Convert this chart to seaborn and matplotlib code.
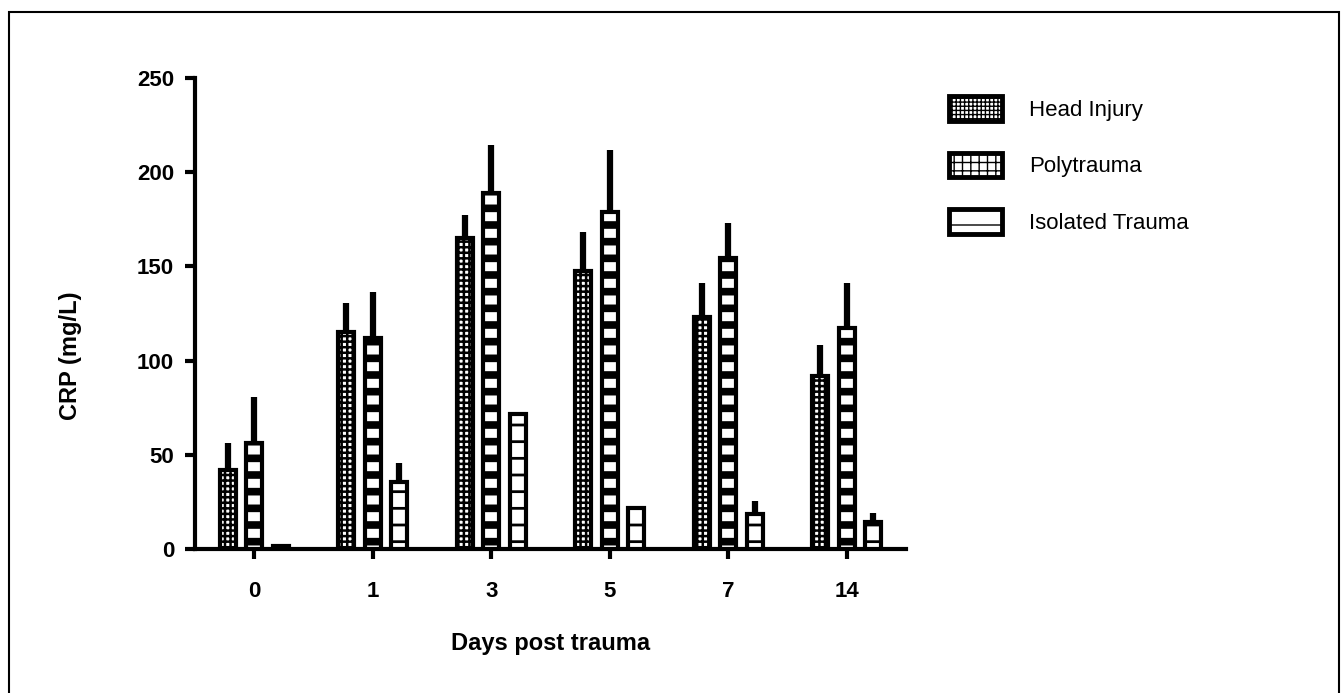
import numpy as np
import pandas as pd
import matplotlib
matplotlib.use("Agg")
import matplotlib.pyplot as plt
import seaborn as sns
from matplotlib.patches import Patch, Rectangle

# ---- data ----
days = ["0", "1", "3", "5", "7", "14"]
groups = ["Head Injury", "Polytrauma", "Isolated Trauma"]
head_injury = [41.9, 115.0, 164.9, 147.7, 123.3, 91.8]
head_injury_err = [14.2, 15.7, 12.4, 20.4, 18.1, 16.5]
polytrauma = [56.4, 112.2, 189.1, 179.0, 154.3, 117.5]
polytrauma_err = [24.1, 24.4, 25.3, 32.8, 18.9, 23.8]
isolated = [1.8, 35.7, 71.7, 21.9, 18.4, 14.2]
isolated_err = [0.0, 10.1, 0.0, 0.0, 7.1, 4.7]
y_ticks = [0, 50, 100, 150, 200, 250]

means = [head_injury, polytrauma, isolated]
errs = [head_injury_err, polytrauma_err, isolated_err]

df = pd.DataFrame({
    "day": np.tile(days, len(groups)),
    "group": np.repeat(groups, len(days)),
    "crp": np.concatenate(means),
})

sns.set_style("ticks")
plt.rcParams["font.family"] = ["Liberation Sans", "DejaVu Sans"]
for k in ["text.color", "axes.labelcolor", "xtick.color", "ytick.color",
          "axes.edgecolor"]:
    plt.rcParams[k] = "black"

fig = plt.figure(figsize=(13.44, 6.93), dpi=100)
ax = fig.add_axes([195 / 1344, 1 - 549 / 693, 711 / 1344, (549 - 78) / 693])

sns.barplot(data=df, x="day", y="crp", hue="group", order=days, hue_order=groups,
            palette=["white"] * 3, edgecolor="black", linewidth=3,
            width=0.675, gap=0.4, errorbar=None, legend=False, ax=ax, zorder=3)

hatches = ["+++", "-", "-"]
hatch_lw = [1.8, 5.5, 2.0]
for cont, h, hl, err in zip(ax.containers, hatches, hatch_lw, errs):
    xs, ys = [], []
    for bar in cont:
        bar.set_hatch(h)
        if hasattr(bar, "set_hatch_linewidth"):
            bar.set_hatch_linewidth(hl)
        xs.append(bar.get_x() + bar.get_width() / 2)
        ys.append(bar.get_height())
    ax.errorbar(xs, ys, yerr=[np.zeros(len(err)), err], fmt="none",
                ecolor="black", elinewidth=4.5, capsize=0, zorder=2)

ax.set_xlim(-0.5, 5.5)
ax.set_ylim(0, 250)
ax.set_yticks(y_ticks)
sns.despine(ax=ax)
for s in ["left", "bottom"]:
    ax.spines[s].set_linewidth(3)
    ax.spines[s].set_color("black")
ax.tick_params(axis="both", width=3, length=7, direction="out", labelsize=16,
               color="black", labelcolor="black")
ax.tick_params(axis="x", pad=16)
ax.tick_params(axis="y", pad=8)
for lab in ax.get_xticklabels() + ax.get_yticklabels():
    lab.set_fontweight("bold")

ax.set_xlabel("Days post trauma", fontsize=17, fontweight="bold", color="black")
ax.set_ylabel("CRP (mg/L)", fontsize=17, fontweight="bold", color="black")
ax.xaxis.set_label_coords(0.5, -(632 - 549) / 471)
ax.yaxis.set_label_coords(-(195 - 82) / 711, 0.41)

handles = []
for g, h, hl in zip(groups, ["++++", "++", "-"], [1.2, 3.5, 2.5]):
    p = Patch(facecolor="white", edgecolor="black", linewidth=3.5, hatch=h, label=g)
    if hasattr(p, "set_hatch_linewidth"):
        p.set_hatch_linewidth(hl)
    handles.append(p)
fig.legend(handles=handles, loc="upper left", bbox_to_anchor=(949 / 1344, 1 - 96 / 693),
           frameon=False, fontsize=16, handlelength=2.4, handleheight=1.35,
           handletextpad=1.2, labelspacing=1.42, borderpad=0, borderaxespad=0,
           labelcolor="black")

fig.add_artist(Rectangle((9 / 1344, -0.05), (1339 - 9) / 1344, 1.05 - 12 / 693,
                         transform=fig.transFigure, fill=False, lw=1.5,
                         edgecolor="black"))

fig.savefig("out.png", dpi=100)
